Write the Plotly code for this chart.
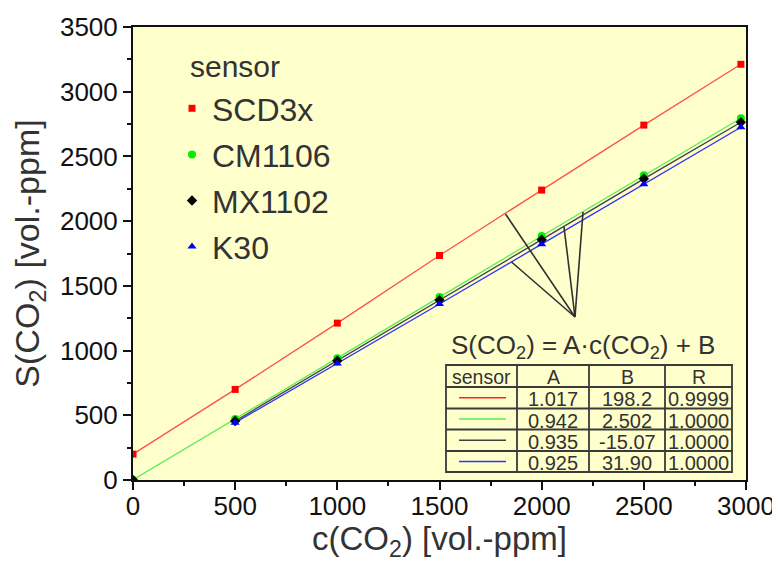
import plotly.graph_objects as go

# ---------------- data ----------------
sensors = ["SCD3x", "CM1106", "MX1102", "K30"]
x_scd = [0, 500, 1000, 1500, 2000, 2500, 2975]
y_scd = [200, 700, 1212, 1735, 2240, 2742, 3212]
x_cm = [0, 500, 1000, 1500, 2000, 2500, 2975]
y_cm = [2, 471, 940, 1413, 1885, 2355, 2795]
x_mx = [0, 500, 1000, 1500, 2000, 2500, 2975]
y_mx = [0, 456, 922, 1390, 1857, 2327, 2764]
x_k30 = [500, 1000, 1500, 2000, 2500, 2975]
y_k30 = [443, 900, 1360, 1822, 2285, 2725]

# fit table (as printed)
fit_A = ["1.017", "0.942", "0.935", "0.925"]
fit_B = ["198.2", "2.502", "-15.07", "31.90"]
fit_R = ["0.9999", "1.0000", "1.0000", "1.0000"]

x_ticks = [0, 500, 1000, 1500, 2000, 2500, 3000]
y_ticks = [0, 500, 1000, 1500, 2000, 2500, 3000, 3500]

# ---------------- styles ----------------
marker_col = ["#FF0000", "#00EE00", "#000000", "#0000FF"]
line_col = ["#FF5050", "#55EE55", "#404040", "#3030FF"]
symbols = ["square", "circle", "diamond", "triangle-up"]
msize = [7, 8, 8, 8]
FONT = "Liberation Sans, Arial, sans-serif"
TXT = "#333333"

OFF = 8  # page body margin of the HTML page
W, H = 780 - OFF, 562 - OFF
L, R, T, B = 133 - OFF, 34, 27 - OFF, 82
PW, PH = W - L - R, H - T - B


def px(x):
    return (x - OFF - L) / PW


def py(y):
    return (H - B - (y - OFF)) / PH


fig = go.Figure()

series = [(x_scd, y_scd), (x_cm, y_cm), (x_mx, y_mx), (x_k30, y_k30)]
# lines (MX1102 line drawn from its 500 point onward)
for i, (xs, ys) in enumerate(series):
    xl, yl = (xs[1:], ys[1:]) if i == 2 else (xs, ys)
    fig.add_trace(go.Scatter(x=xl, y=yl, mode="lines",
                             line=dict(color=line_col[i], width=1.3),
                             showlegend=False, hoverinfo="skip"))
# markers
for i, (xs, ys) in enumerate(series):
    fig.add_trace(go.Scatter(x=xs, y=ys, mode="markers", name=sensors[i],
                             legendgroup=sensors[i],
                             marker=dict(color=marker_col[i], symbol=symbols[i],
                                         size=msize[i], line=dict(width=0))))

shapes = []
annotations = []

# pointer lines from the formula to the fit lines
tip = (575, 317)
ends = [(505.5, 214), (511.5, 262), (564, 227), (583, 212)]
for ex, ey in ends:
    shapes.append(dict(type="line", xref="paper", yref="paper",
                       x0=px(tip[0]), y0=py(tip[1]), x1=px(ex), y1=py(ey),
                       line=dict(color="#303030", width=1.6)))

# table
tl, tr, tt, tb = 446, 732, 365, 472
cols = [446, 517, 589, 665, 732]
rows = [365, 387, 408.5, 429.5, 451, 472]
bc = "#3a3a3a"
shapes.append(dict(type="rect", xref="paper", yref="paper",
                   x0=px(tl), x1=px(tr), y0=py(tt), y1=py(tb),
                   line=dict(color=bc, width=1.8)))
for c in cols[1:-1]:
    shapes.append(dict(type="line", xref="paper", yref="paper",
                       x0=px(c), x1=px(c), y0=py(tt), y1=py(tb),
                       line=dict(color=bc, width=1.8)))
for r in rows[1:-1]:
    shapes.append(dict(type="line", xref="paper", yref="paper",
                       x0=px(tl), x1=px(tr), y0=py(r), y1=py(r),
                       line=dict(color=bc, width=1.8)))

annotations.append(dict(text="S(CO<sub>2</sub>) = A·c(CO<sub>2</sub>) + B",
                        xref="paper", yref="paper", x=px(583), y=py(346),
                        xanchor="center", yanchor="middle", showarrow=False,
                        font=dict(family=FONT, size=26, color=TXT)))

header = ["sensor", "A", "B", "R"]
for j, h in enumerate(header):
    annotations.append(dict(text=h, xref="paper", yref="paper",
                            x=px((cols[j] + cols[j + 1]) / 2),
                            y=py((rows[0] + rows[1]) / 2 + 1),
                            xanchor="center", yanchor="middle", showarrow=False,
                            font=dict(family=FONT, size=19.5, color=TXT)))
for i in range(4):
    yc = (rows[i + 1] + rows[i + 2]) / 2
    shapes.append(dict(type="line", xref="paper", yref="paper",
                       x0=px(459), x1=px(506), y0=py(yc), y1=py(yc),
                       line=dict(color=line_col[i] if i != 0 else "#FF2020", width=1.6)))
    for j, val in enumerate([fit_A[i], fit_B[i], fit_R[i]]):
        annotations.append(dict(text=val, xref="paper", yref="paper",
                                x=px((cols[j + 1] + cols[j + 2]) / 2),
                                y=py(yc + 1.5),
                                xanchor="center", yanchor="middle", showarrow=False,
                                font=dict(family=FONT, size=20, color=TXT)))

# legend title
annotations.append(dict(text="sensor", xref="paper", yref="paper",
                        x=px(188), y=py(66), xanchor="left", yanchor="middle",
                        showarrow=False,
                        font=dict(family=FONT, size=30, color=TXT)))

axis_common = dict(showline=True, linecolor="#111111", linewidth=2,
                   ticks="outside", ticklen=8, tickwidth=1.5, tickcolor="#111111",
                   showgrid=False, zeroline=False, automargin=False,
                   tickfont=dict(family=FONT, size=26, color="#111111"),
                   minor=dict(ticks="outside", ticklen=4, tickwidth=1.5,
                              tickcolor="#111111", showgrid=False))

fig.update_xaxes(range=[0, 3000], tickvals=x_ticks,
                 ticktext=[str(v) for v in x_ticks],
                 minor_dtick=250, mirror=True, ticklabelstandoff=-6,
                 title=dict(text="c(CO<sub>2</sub>) [vol.-ppm]", standoff=15,
                            font=dict(family=FONT, size=33, color=TXT)),
                 **axis_common)
fig.update_yaxes(range=[0, 3500], tickvals=y_ticks,
                 ticktext=[str(v) for v in y_ticks],
                 minor_dtick=250, mirror=True,
                 title=dict(text="S(CO<sub>2</sub>) [vol.-ppm]", standoff=12,
                            font=dict(family=FONT, size=34, color=TXT)),
                 **axis_common)

fig.update_layout(
    width=W, height=H,
    margin=dict(l=L, r=R, t=T, b=B, pad=0),
    paper_bgcolor="white", plot_bgcolor="#FFFFCC",
    font=dict(family=FONT, color=TXT),
    shapes=shapes, annotations=annotations,
    legend=dict(x=px(172), y=py(81), xanchor="left", yanchor="top",
                bgcolor="rgba(0,0,0,0)", tracegroupgap=1.5,
                font=dict(family=FONT, size=32, color=TXT), itemwidth=30),
)

fig.write_html("out.html")
